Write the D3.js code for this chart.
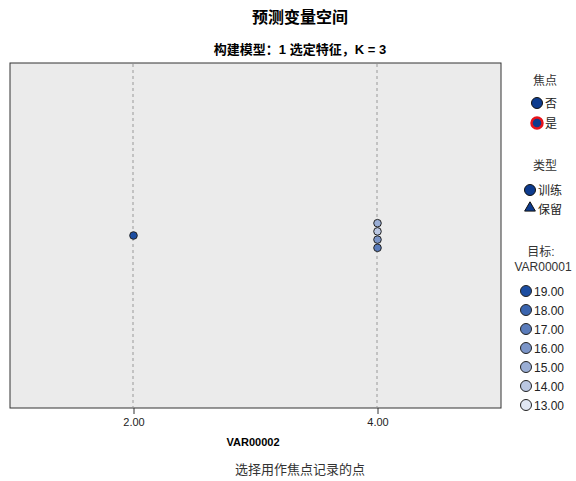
<!DOCTYPE html>
<html><head><meta charset="utf-8">
<script src="https://cdn.jsdelivr.net/npm/d3@7"></script>
<style>body{margin:0;background:#fff}svg{display:block;font-family:Arial,"Liberation Sans","Noto Sans CJK SC",sans-serif}</style>
</head><body><svg id="c" width="576" height="481"></svg>
<script>
const xTicks = [2, 4];
const xTickLabels = ["2.00", "4.00"];
const pointX = [2, 4, 4, 4, 4];
const pointStack = [0, 1.5, 0.5, -0.5, -1.5];
const pointTarget = [19, 15, 14, 16, 17];
const targetLevels = [19, 18, 17, 16, 15, 14, 13];
const targetLabels = ["19.00","18.00","17.00","16.00","15.00","14.00","13.00"];
const targetColors = ["#1c4da1","#3a64ae","#5a7cbb","#7b95c8","#9aaed5","#bac7e2","#e0e6f2"];
const focusLabels = ["否","是"];
const typeLabels = ["训练","保留"];

const svg = d3.select("#c");
const L = 10, R = 501, T = 63, B = 408;
const x = d3.scaleLinear().domain([1, 5]).range([L + 1, R - 2]);
const y = d3.scaleLinear().domain([-21, 21]).range([B, T]);
const color = d3.scaleOrdinal().domain(targetLevels).range(targetColors);

svg.append("text").attr("x", 300).attr("y", 23).attr("text-anchor", "middle")
  .attr("font-size", 16).attr("font-weight", "bold").text("预测变量空间");
svg.append("text").attr("x", 300).attr("y", 54).attr("text-anchor", "middle")
  .attr("font-size", 13).attr("font-weight", "bold").text("构建模型：1 选定特征，K = 3");

svg.append("rect").attr("x", L).attr("y", T).attr("width", R - L).attr("height", B - T)
  .attr("fill", "#ebebeb").attr("stroke", "#333").attr("stroke-width", 1);

svg.selectAll("line.grid").data(xTicks).enter().append("line")
  .attr("x1", d => x(d)).attr("x2", d => x(d)).attr("y1", T + 1).attr("y2", B - 1)
  .attr("stroke", "#999").attr("stroke-dasharray", "3,3").attr("stroke-width", 1);

const ax = d3.axisBottom(x).tickValues(xTicks).tickFormat((d, i) => xTickLabels[i]).tickSize(6).tickPadding(4);
const g = svg.append("g").attr("transform", `translate(0.5,${B})`).call(ax);
g.select(".domain").remove();
g.selectAll("line").attr("stroke", "#333");
g.selectAll("text").attr("font-size", 11).attr("fill", "#222").attr("font-family", "Arial,'Liberation Sans',sans-serif");

svg.append("text").attr("x", 253).attr("y", 446).attr("text-anchor", "middle")
  .attr("font-size", 11).attr("font-weight", "bold").text("VAR00002");
svg.append("text").attr("x", 300).attr("y", 474).attr("text-anchor", "middle")
  .attr("font-size", 13).attr("fill", "#333").text("选择用作焦点记录的点");

svg.selectAll("circle.pt").data(pointX).enter().append("circle")
  .attr("cx", d => x(d) + 0.5).attr("cy", (d, i) => y(pointStack[i]))
  .attr("r", 3.8).attr("fill", (d, i) => color(pointTarget[i]))
  .attr("stroke", "#222").attr("stroke-width", 1);

// legend
const lg = svg.append("g");
lg.append("text").attr("x", 545).attr("y", 85).attr("text-anchor", "middle").attr("font-size", 12).attr("fill", "#333").text("焦点");
focusLabels.forEach((t, i) => {
  const yy = 103 + i * 20;
  lg.append("circle").attr("cx", 537).attr("cy", yy).attr("r", i ? 5.5 : 5.5)
    .attr("fill", "#0d3b8e").attr("stroke", i ? "#e8141b" : "#111").attr("stroke-width", i ? 2.5 : 1);
  lg.append("text").attr("x", 545).attr("y", yy + 5).attr("font-size", 12).attr("fill", "#222").text(t);
});
lg.append("text").attr("x", 545).attr("y", 170).attr("text-anchor", "middle").attr("font-size", 12).attr("fill", "#333").text("类型");
lg.append("circle").attr("cx", 530).attr("cy", 190).attr("r", 5.5).attr("fill", "#0d3b8e").attr("stroke", "#111");
lg.append("text").attr("x", 538).attr("y", 195).attr("font-size", 12).attr("fill", "#222").text(typeLabels[0]);
lg.append("path").attr("d", d3.symbol(d3.symbolTriangle, 50)()).attr("transform", "translate(530,208)")
  .attr("fill", "#0d3b8e").attr("stroke", "#111");
lg.append("text").attr("x", 538).attr("y", 214).attr("font-size", 12).attr("fill", "#222").text(typeLabels[1]);

lg.append("text").attr("x", 541).attr("y", 256).attr("text-anchor", "middle").attr("font-size", 12).attr("fill", "#333").text("目标:");
lg.append("text").attr("x", 543).attr("y", 271).attr("text-anchor", "middle").attr("font-size", 12).attr("fill", "#333").text("VAR00001");
targetLevels.forEach((v, i) => {
  const yy = 291 + i * 19;
  lg.append("circle").attr("cx", 526).attr("cy", yy).attr("r", 5.5).attr("fill", color(v)).attr("stroke", "#222");
  lg.append("text").attr("x", 534).attr("y", yy + 5).attr("font-size", 12).attr("fill", "#222").text(targetLabels[i]);
});
</script></body></html>
